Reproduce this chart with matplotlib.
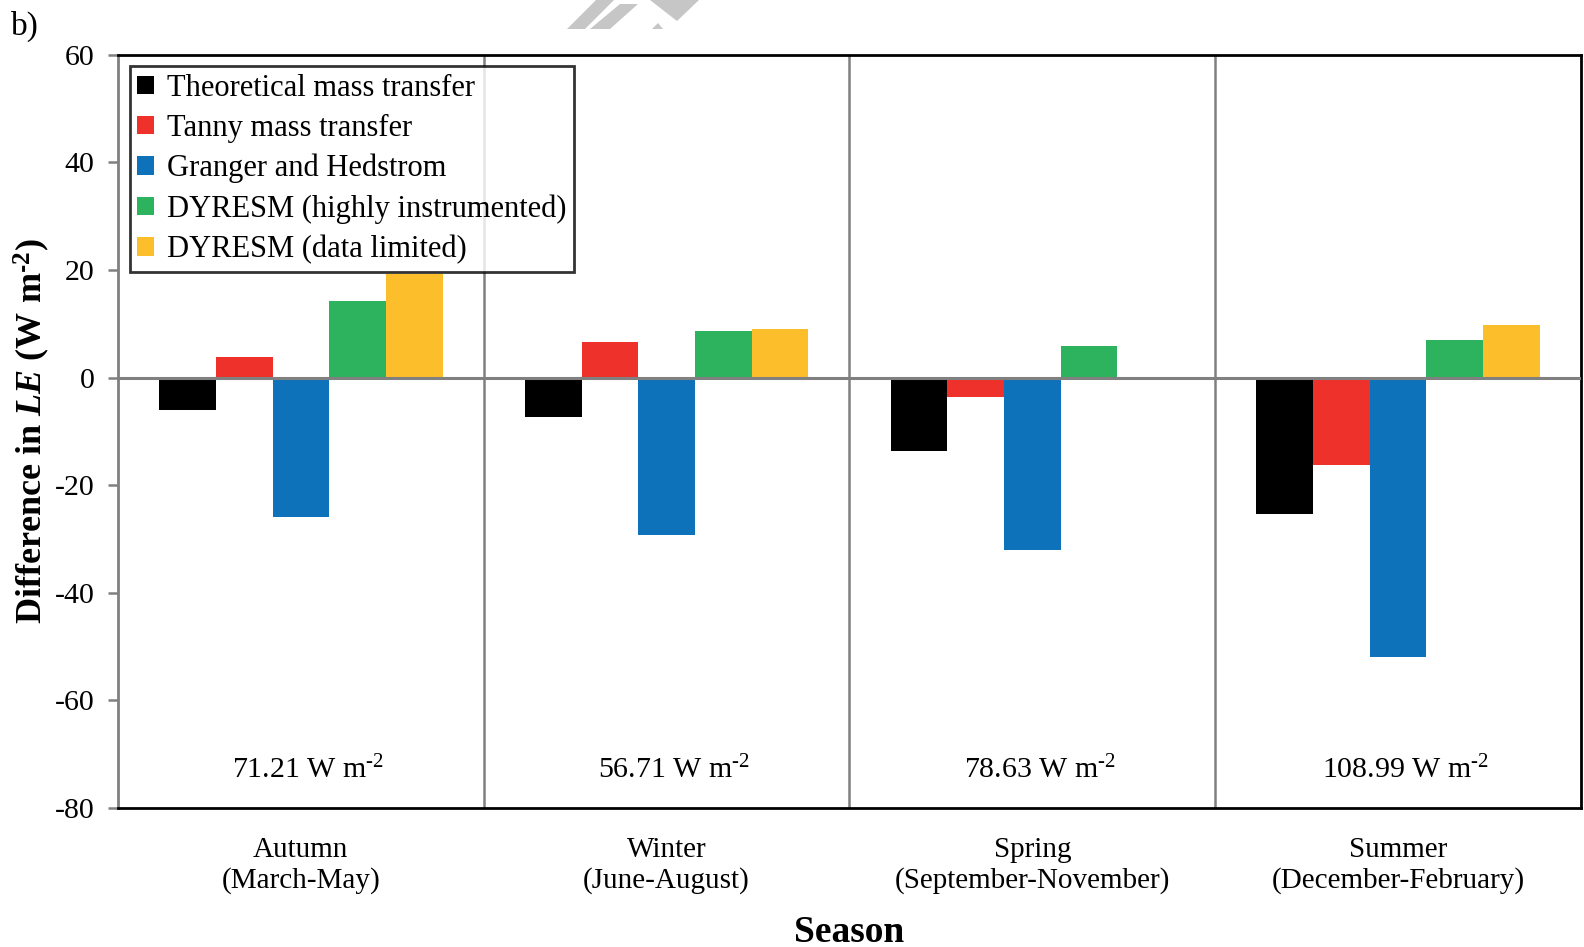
import matplotlib.pyplot as plt
import numpy as np
from matplotlib.patches import Polygon

plt.rcParams['font.family'] = 'Liberation Serif'
plt.rcParams['axes.unicode_minus'] = False
plt.rcParams['mathtext.fontset'] = 'custom'
plt.rcParams['mathtext.rm'] = 'Liberation Serif'
plt.rcParams['mathtext.it'] = 'Liberation Serif:italic'
plt.rcParams['mathtext.bf'] = 'Liberation Serif:bold'
plt.rcParams['mathtext.bfit'] = 'Liberation Serif:bold:italic'

seasons = ['Autumn\n(March-May)', 'Winter\n(June-August)',
           'Spring\n(September-November)', 'Summer\n(December-February)']
methods = ['Theoretical mass transfer', 'Tanny mass transfer', 'Granger and Hedstrom',
           'DYRESM (highly instrumented)', 'DYRESM (data limited)']
theoretical = [-6.1, -7.4, -13.6, -25.4]
tanny = [3.9, 6.7, -3.6, -16.2]
granger = [-25.9, -29.3, -32.0, -52.0]
dyresm_hi = [14.2, 8.6, 5.9, 6.9]
dyresm_lim = [19.3, 9.1, -0.5, 9.7]
mean_le = ['71.21', '56.71', '78.63', '108.99']

colors = ['#000000', '#EE312B', '#0E72BA', '#2DB35E', '#FDBE2C']
series = [theoretical, tanny, granger, dyresm_hi, dyresm_lim]

fig = plt.figure(figsize=(15.84, 9.47), dpi=100)
ax = fig.add_axes([0.0745, 0.147, 0.9235, 0.795])

x = np.arange(len(seasons))
w = 0.155
for i, (vals, c, lab) in enumerate(zip(series, colors, methods)):
    ax.bar(x + (i - 2) * w, vals, width=w, color=c, label=lab, zorder=3)

ax.set_xlim(-0.5, 3.5)
ax.set_ylim(-80, 60)
ax.set_yticks(np.arange(-80, 61, 20))
ax.set_xticks(x)
ax.set_xticklabels(seasons, fontsize=21, linespacing=1.2)
ax.tick_params(axis='x', length=0, pad=21)
ax.tick_params(axis='y', labelsize=21.5, length=7, width=1.8, color='#808080', pad=10)

# season boundaries and zero line
for b in [0.5, 1.5, 2.5]:
    ax.axvline(b, color='#808080', lw=1.8, zorder=1)
ax.axhline(0, color='#808080', lw=2.2, zorder=4)

for s in ['top', 'bottom', 'right']:
    ax.spines[s].set_color('black')
    ax.spines[s].set_linewidth(2)
ax.spines['left'].set_color('#808080')
ax.spines['left'].set_linewidth(2)

for xi, m in zip(x, mean_le):
    ax.text(xi + 0.02, -72.9, m + r' W m$^{\text{-2}}$', ha='center', va='center', fontsize=21.5)

ax.set_ylabel('Difference in $\\mathbfit{LE}$ (W m$^{\\mathbf{\u20112}}$)',
              fontsize=26, fontweight='bold', labelpad=2)
ax.set_xlabel('Season', fontsize=27, fontweight='bold', labelpad=15)

leg = ax.legend(loc='upper left', bbox_to_anchor=(0.008, 0.985), fontsize=22,
                frameon=True, fancybox=False, borderaxespad=0, handlelength=0.55,
                handleheight=0.55, handletextpad=0.42, labelspacing=0.36,
                borderpad=0.25)
leg.get_frame().set_edgecolor('black')
leg.get_frame().set_linewidth(2)
leg.set_zorder(6)

fig.text(0.007, 0.972, 'b)', fontsize=24, va='center')

# light grey stripes at the top edge
wm = [[(567, 29), (585, 29), (614, 0), (596, 0)],
      [(590, 29), (610, 29), (638, 4), (620, 4)],
      [(652, 29), (663, 29), (658, 23)],
      [(650, 0), (699, 0), (677, 21)]]
for pts in wm:
    fig.patches.append(Polygon([(px / 1584, 1 - py / 947) for px, py in pts],
                               closed=True, transform=fig.transFigure,
                               facecolor='#c6c6c6', edgecolor='none'))

fig.savefig('out.png', dpi=100)
